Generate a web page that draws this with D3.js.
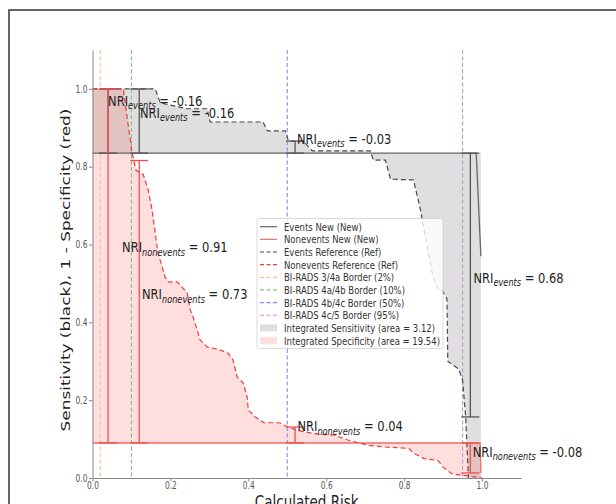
<!DOCTYPE html>
<html><head><meta charset="utf-8">
<script src="https://cdn.jsdelivr.net/npm/d3@7"></script>
<style>body{margin:0;background:#fff} svg{display:block} text{font-family:"DejaVu Sans",sans-serif}</style>
</head><body><svg id="c" width="616" height="504"></svg>
<script>
// ---------------- data ----------------
const tickValues = [0, 0.2, 0.4, 0.6, 0.8, 1.0];
const thresholds = [0.02, 0.10, 0.50, 0.95];
const thresholdNames = ["BI-RADS 3/4a Border (2%)", "BI-RADS 4a/4b Border (10%)", "BI-RADS 4b/4c Border (50%)", "BI-RADS 4c/5 Border (95%)"];
const eventsNew = [[0, 0.835], [0.985, 0.835], [0.997, 0.57]];
const eventsNewFill = [[0, 0.835], [0.997, 0.835], [0.997, 0]];
const noneventsNew = [[0, 0.09], [0.995, 0.09], [0.997, 0.013]];
const noneventsNewFill = [[0, 0.09], [0.997, 0.09], [0.997, 0]];
const eventsRef = [[0, 1.0], [0.161, 1.0], [0.174, 0.964], [0.243, 0.949], [0.294, 0.949], [0.302, 0.915],
  [0.438, 0.915], [0.449, 0.892], [0.495, 0.892], [0.503, 0.866], [0.541, 0.866], [0.564, 0.841],
  [0.713, 0.841], [0.721, 0.817], [0.752, 0.817], [0.765, 0.768], [0.824, 0.766], [0.842, 0.689],
  [0.858, 0.60], [0.873, 0.522], [0.885, 0.49], [0.90, 0.478], [0.91, 0.46], [0.912, 0.30],
  [0.94, 0.28], [0.95, 0.252], [0.958, 0.157], [0.965, 0.0]];
const noneventsRef = [[0, 1.0], [0.079, 1.0], [0.101, 0.839], [0.112, 0.79], [0.13, 0.78], [0.135, 0.766],
  [0.143, 0.74], [0.153, 0.689], [0.161, 0.63], [0.168, 0.578], [0.179, 0.542], [0.186, 0.517],
  [0.194, 0.504], [0.217, 0.504], [0.225, 0.496], [0.243, 0.476], [0.251, 0.432], [0.258, 0.414],
  [0.269, 0.38], [0.276, 0.355], [0.294, 0.337], [0.328, 0.329], [0.348, 0.321], [0.361, 0.303],
  [0.371, 0.26], [0.387, 0.244], [0.397, 0.208], [0.40, 0.174], [0.418, 0.157], [0.44, 0.142],
  [0.48, 0.142], [0.498, 0.133], [0.524, 0.123], [0.569, 0.114], [0.622, 0.11], [0.657, 0.097],
  [0.71, 0.084], [0.745, 0.08], [0.812, 0.076], [0.825, 0.063], [0.851, 0.05], [0.887, 0.045],
  [0.90, 0.028], [0.922, 0.011], [0.949, 0.007], [0.98, 0.003], [1.0, 0.0]];
const nriX = [0.04, 0.12, 0.52, 0.97];
const eventsRefAt = [1.0, 1.0, 0.866, 0.157];
const eventsNewAt = [0.835, 0.835, 0.835, 0.835];
const noneventsRefAt = [1.0, 0.816, 0.131, 0.013];
const noneventsNewAt = [0.09, 0.09, 0.09, 0.09];
const eventsNri = ["-0.16", "-0.16", "-0.03", "0.68"];
const noneventsNri = ["0.91", "0.73", "0.04", "-0.08"];
// annotation anchors (data coords)
const eventsLabelX = [0.04, 0.122, 0.525, 0.978];
const eventsLabelY = [0.957, 0.926, 0.859, 0.502];
const noneventsLabelX = [0.076, 0.127, 0.526, 0.976];
const noneventsLabelY = [0.580, 0.459, 0.120, 0.055];
const areaSens = 3.12, areaSpec = 19.54;

// ---------------- layout ----------------
const K = 1.3; // vertical stretch of glyphs in the reference
const svg = d3.select("#c");
svg.append("rect").attr("x", 9).attr("y", 10).attr("width", 700).attr("height", 600)
  .attr("fill", "none").attr("stroke", "#333").attr("stroke-width", 1.5);

const x = d3.scaleLinear().domain([0, 1.1]).range([92.5, 521]);
const y = d3.scaleLinear().domain([0, 1.1]).range([478, 50]);
const line = d3.line().x(d => x(d[0])).y(d => y(d[1]));

const thrColors = ["#fcc27a", "#80c480", "#8a8af0", "#c98fd6"];
const colEvNew = "#666", colNeNew = "#f46a6a", colEvRef = "#4a4a4a", colNeRef = "#f03a3a";

function stext(parent, px, py, size) {
  return parent.append("text").attr("transform", `translate(${px},${py}) scale(1,${K})`).attr("font-size", size);
}

// fills
svg.append("path").attr("d", line(eventsNewFill.concat(eventsRef.slice().reverse())) + "Z")
  .attr("fill", "#808080").attr("fill-opacity", 0.25).attr("stroke", "none");
svg.append("path").attr("d", line(noneventsNewFill.concat(noneventsRef.slice().reverse())) + "Z")
  .attr("fill", "#ff2020").attr("fill-opacity", 0.15).attr("stroke", "none");

// threshold lines
thresholds.forEach((t, i) => {
  svg.append("line").attr("x1", x(t)).attr("x2", x(t)).attr("y1", y(1.1)).attr("y2", y(0))
    .attr("stroke", thrColors[i]).attr("stroke-width", 1.1).attr("stroke-dasharray", "4,2.5");
});

// curves
svg.append("path").attr("d", line(eventsNew)).attr("fill", "none").attr("stroke", colEvNew).attr("stroke-width", 1.3);
svg.append("path").attr("d", line(noneventsNew)).attr("fill", "none").attr("stroke", colNeNew).attr("stroke-width", 1.3);
svg.append("path").attr("d", line(eventsRef)).attr("fill", "none").attr("stroke", colEvRef).attr("stroke-width", 1.2).attr("stroke-dasharray", "5,3");
svg.append("path").attr("d", line(noneventsRef)).attr("fill", "none").attr("stroke", colNeRef).attr("stroke-width", 1.2).attr("stroke-dasharray", "5,3");

// error bars
function errBar(xv, a, b, col) {
  const g = svg.append("g").attr("stroke", col).attr("stroke-width", 1.3);
  g.append("line").attr("x1", x(xv)).attr("x2", x(xv)).attr("y1", y(a)).attr("y2", y(b));
  [a, b].forEach(v => g.append("line").attr("x1", x(xv) - 9).attr("x2", x(xv) + 9).attr("y1", y(v)).attr("y2", y(v)));
}
nriX.forEach((xv, i) => errBar(xv, eventsRefAt[i], eventsNewAt[i], "#555"));
nriX.forEach((xv, i) => errBar(xv, noneventsRefAt[i], noneventsNewAt[i], "#f05050"));

// annotations
function nriLabel(xv, yv, sub, val) {
  const t = stext(svg, x(xv), y(yv), 11.5).attr("fill", "#222");
  t.append("tspan").text("NRI");
  t.append("tspan").attr("dy", 2.5).attr("font-size", 8.2).attr("font-style", "italic").text(sub);
  t.append("tspan").attr("dy", -2.5).text(" = " + val);
}
nriX.forEach((xv, i) => nriLabel(eventsLabelX[i], eventsLabelY[i], "events", eventsNri[i]));
nriX.forEach((xv, i) => nriLabel(noneventsLabelX[i], noneventsLabelY[i], "nonevents", noneventsNri[i]));

// axes
const xa = svg.append("g").attr("transform", `translate(0,${y(0)})`)
  .call(d3.axisBottom(x).tickValues(tickValues).tickFormat(d3.format(".1f")).tickSize(3.5).tickPadding(2).tickSizeOuter(0));
const ya = svg.append("g").attr("transform", `translate(${x(0)},0)`)
  .call(d3.axisLeft(y).tickValues(tickValues).tickFormat(d3.format(".1f")).tickSize(3.5).tickPadding(1.5).tickSizeOuter(0));
[xa, ya].forEach(a => {
  a.select(".domain").attr("stroke", "#888");
  a.selectAll(".tick line").attr("stroke", "#888");
  a.selectAll(".tick text").attr("fill", "#555").attr("font-size", 7.5).attr("font-family", "DejaVu Sans");
});
xa.selectAll(".tick text").attr("y", 0).attr("transform", `translate(0,4.5) scale(1,${K})`);
ya.selectAll(".tick text").attr("transform", `scale(1,${K})`);

stext(svg, (x(0) + x(1.1)) / 2, 508, 13.5).attr("text-anchor", "middle").attr("fill", "#222").text("Calculated Risk");
svg.append("text").attr("transform", `translate(70,${(y(0) + y(1.1)) / 2 + 6}) scale(1,${K}) rotate(-90)`)
  .attr("text-anchor", "middle").attr("font-size", 13).attr("fill", "#222")
  .text("Sensitivity (black), 1 - Specificity (red)");

// legend
const legendItems = [
  {label: "Events New (New)", type: "line", color: colEvNew, dash: null},
  {label: "Nonevents New (New)", type: "line", color: colNeNew, dash: null},
  {label: "Events Reference (Ref)", type: "line", color: colEvRef, dash: "4,2.5"},
  {label: "Nonevents Reference (Ref)", type: "line", color: colNeRef, dash: "4,2.5"},
  ...thresholdNames.map((n, i) => ({label: n, type: "line", color: thrColors[i], dash: "4,2.5"})),
  {label: `Integrated Sensitivity (area = ${areaSens.toFixed(2)})`, type: "patch", color: "#808080", op: 0.25},
  {label: `Integrated Specificity (area = ${areaSpec.toFixed(2)})`, type: "patch", color: "#ff2020", op: 0.15}
];
const lg = svg.append("g").attr("transform", "translate(257,218.5)");
lg.append("rect").attr("width", 186).attr("height", 130).attr("rx", 2.5)
  .attr("fill", "#fff").attr("fill-opacity", 0.8).attr("stroke", "#d0d0d0").attr("stroke-width", 0.8);
legendItems.forEach((it, i) => {
  const cy = 8.2 + i * 12.65;
  if (it.type === "line") {
    lg.append("line").attr("x1", 3).attr("x2", 20).attr("y1", cy).attr("y2", cy)
      .attr("stroke", it.color).attr("stroke-width", 1.2).attr("stroke-dasharray", it.dash);
  } else {
    lg.append("rect").attr("x", 3).attr("y", cy - 3.5).attr("width", 17).attr("height", 7)
      .attr("fill", it.color).attr("fill-opacity", it.op);
  }
  stext(lg, 27, cy + 4, 8.5).attr("fill", "#333").text(it.label);
});
</script></body></html>
